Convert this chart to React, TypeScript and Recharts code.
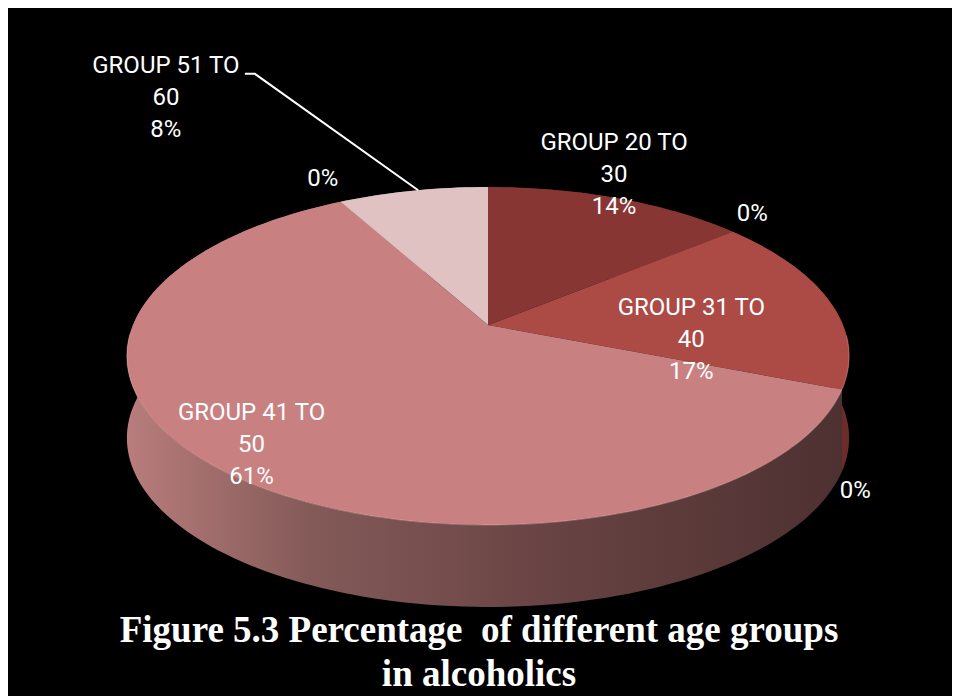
import React from 'react';
import { PieChart, Pie, Cell } from 'recharts';

// ---- data ----
const categories = ['GROUP 20 TO 30', '', 'GROUP 31 TO 40', '', 'GROUP 41 TO 50', '', 'GROUP 51 TO 60'];
const values = [14, 0, 17, 0, 61, 0, 8];
const topColors = ['#873634', '#873634', '#AC4A46', '#AC4A46', '#C98080', '#C98080', '#E0C2C2'];
const wallColors = ['#5A2422', '#5A2422', '#6B2C2A', '#6B2C2A', 'url(#wallGrad41)', '#9A7070', '#9A8080'];
const titleLines = ['Figure 5.3 Percentage  of different age groups', 'in alcoholics'];

// label placement (angle shift from slice mid-angle, radial factor)
const labelAngleShift = [4.3, 3.3, -17.4, -22.7, -1.1, -1.6, 18.6];
const labelRadius = [1.2, 1.164, 0.57, 1.22, 0.87, 1.22, 2.24];
const leaderAnchorShift: (number | null)[] = [null, null, null, null, null, null, -1.0];

const data = categories.map((name, i) => ({ name, value: values[i] }));

// ---- geometry ----
const W = 952;
const H = 690;
const CX = 480;
const CY = 319;
const R = 355;
const TILT = 0.46;
const PERSP = 0.1834;
const DEPTH = 82;

function project(cx: number, cy: number, r: number, angleDeg: number, f = 1): [number, number] {
  const t = (angleDeg * Math.PI) / 180;
  const u = Math.cos(t);
  const v = Math.sin(t);
  const s = 1 + PERSP * f * v;
  return [cx + (r * f * u) / s, cy - (r * TILT * f * v) / s];
}

function arcPoints(cx: number, cy: number, r: number, a0: number, a1: number): [number, number][] {
  const n = Math.max(2, Math.ceil(Math.abs(a1 - a0) / 1.5));
  const pts: [number, number][] = [];
  for (let i = 0; i <= n; i++) {
    pts.push(project(cx, cy, r, a0 + ((a1 - a0) * i) / n));
  }
  return pts;
}

const fmt = (p: [number, number]) => `${p[0].toFixed(2)},${p[1].toFixed(2)}`;

const TopShape = (props: any) => {
  const { cx, cy, outerRadius, startAngle, endAngle, fill } = props;
  if (Math.abs(endAngle - startAngle) < 1e-6) return <g />;
  const pts = arcPoints(cx, cy, outerRadius, startAngle, endAngle);
  const d = `M${cx},${cy} L` + pts.map(fmt).join(' L') + ' Z';
  const front = pts.filter((p) => p[1] > cy + 8);
  const hl = front.length > 1 ? 'M' + front.map(fmt).join(' L') : '';
  return (
    <g>
      <path d={d} fill={fill} stroke="none" />
      {hl && <path d={hl} fill="none" stroke="rgba(255,210,205,0.28)" strokeWidth={1.2} />}
    </g>
  );
};

const WallShape = (props: any) => {
  const { cx, cy, outerRadius, startAngle, endAngle, fill } = props;
  if (Math.abs(endAngle - startAngle) < 1e-6) return <g />;
  const top = arcPoints(cx, cy, outerRadius, startAngle, endAngle);
  const bottom = top.map((p) => [p[0], p[1] + DEPTH] as [number, number]).reverse();
  const d = 'M' + top.map(fmt).join(' L') + ' L' + bottom.map(fmt).join(' L') + ' Z';
  return <path d={d} fill={fill} stroke="none" />;
};

function splitName(name: string): string[] {
  const parts = name.split(' ');
  if (parts.length < 2) return [name];
  return [parts.slice(0, -1).join(' '), parts[parts.length - 1]];
}

const renderLabel = (props: any) => {
  const { cx, cy, outerRadius, midAngle, index, percent } = props;
  const name = categories[index];
  const [x, y] = project(cx, cy, outerRadius, midAngle + labelAngleShift[index], labelRadius[index]);
  const lines = name ? splitName(name) : [];
  lines.push(`${Math.round(percent * 100)}%`);
  const n = lines.length;
  const lh = 32;
  const shift = leaderAnchorShift[index];
  let leader: React.ReactNode = null;
  if (shift !== null) {
    const anchor = project(cx, cy, outerRadius, midAngle + shift, 1);
    const y1 = y - ((n - 1) / 2) * lh + 9;
    leader = (
      <path
        d={`M${x + 79},${y1} L${x + 89},${y1} L${anchor[0]},${anchor[1]}`}
        fill="none"
        stroke="#fff"
        strokeWidth={2}
      />
    );
  }
  return (
    <g key={`lbl-${index}`}>
      {leader}
      <text textAnchor="middle" fill="#ffffff" fontFamily="Roboto, 'Noto Sans', sans-serif" fontSize={24}>
        {lines.map((l, i) => (
          <tspan key={i} x={x} y={y + (i - (n - 1) / 2) * lh + 8.5}>
            {l}
          </tspan>
        ))}
      </text>
    </g>
  );
};

export default function App() {
  return (
    <div style={{ position: 'relative', width: W, height: H, background: '#000', marginTop: -2 }}>
      <svg width={0} height={0} style={{ position: 'absolute' }}>
        <defs>
          <linearGradient id="wallGrad41" gradientUnits="userSpaceOnUse" x1={CX - R - 2} y1={0} x2={CX + R + 8} y2={0}>
            <stop offset="0" stopColor="#B77C7B" />
            <stop offset="0.25" stopColor="#835A58" />
            <stop offset="0.6" stopColor="#674242" />
            <stop offset="1" stopColor="#4D3030" />
          </linearGradient>
        </defs>
      </svg>
      <PieChart width={W} height={H} margin={{ top: 0, right: 0, bottom: 0, left: 0 }}>
        <Pie
          data={data}
          dataKey="value"
          nameKey="name"
          cx={CX}
          cy={CY}
          innerRadius={0}
          outerRadius={R}
          startAngle={90}
          endAngle={-270}
          isAnimationActive={false}
          label={false}
          labelLine={false}
          shape={WallShape}
          inactiveShape={WallShape}
          activeShape={WallShape}
          stroke="none"
        >
          {data.map((_, i) => (
            <Cell key={`w${i}`} fill={wallColors[i]} />
          ))}
        </Pie>
        <Pie
          data={data}
          dataKey="value"
          nameKey="name"
          cx={CX}
          cy={CY}
          innerRadius={0}
          outerRadius={R}
          startAngle={90}
          endAngle={-270}
          isAnimationActive={false}
          label={renderLabel}
          labelLine={false}
          shape={TopShape}
          inactiveShape={TopShape}
          activeShape={TopShape}
          stroke="none"
        >
          {data.map((_, i) => (
            <Cell key={`t${i}`} fill={topColors[i]} />
          ))}
        </Pie>
      </PieChart>
      <svg width={W} height={H} style={{ position: 'absolute', left: 0, top: 0, pointerEvents: 'none' }}>
        {titleLines.map((t, i) => (
          <text
            key={i}
            x={471}
            y={636 + i * 44}
            textAnchor="middle"
            fill="#ffffff"
            fontFamily="'Liberation Serif', 'Times New Roman', serif"
            fontWeight="bold"
            fontSize={37}
            style={{ whiteSpace: 'pre' }}
          >
            {t}
          </text>
        ))}
      </svg>
    </div>
  );
}
